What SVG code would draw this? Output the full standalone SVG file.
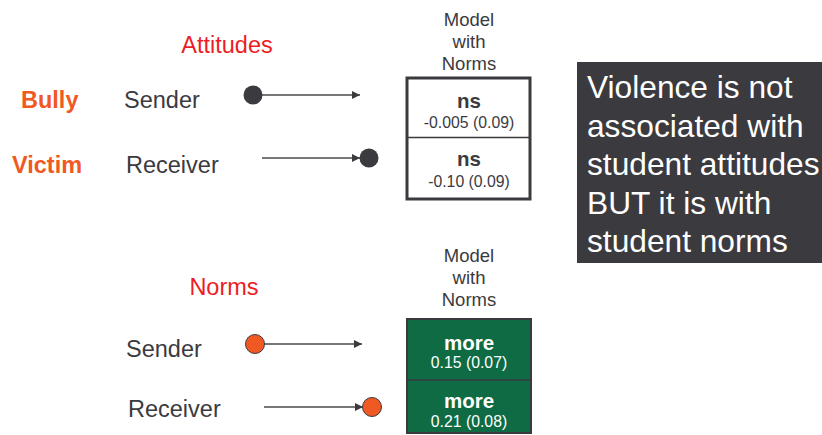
<svg xmlns="http://www.w3.org/2000/svg" width="822" height="435" viewBox="0 0 822 435">
<defs>
<style>
text{font-family:"Liberation Sans",Arial,sans-serif}
.lbl{font-size:23.5px;fill:#3b3a3f}
.role{font-size:23.5px;font-weight:bold;fill:#f05a22}
.head{font-size:23.5px;fill:#ee1c24}
.mh{font-size:18.5px;fill:#3b3a3f;text-anchor:middle}
.big{font-size:20.5px;font-weight:bold;text-anchor:middle}
.val{font-size:15.8px;text-anchor:middle}
.conn{stroke:#4a4a4e;stroke-width:1.3;fill:none}
.dk{fill:#3b3a3f}
.or{fill:#f05a22;stroke:#3b3a3f;stroke-width:1}
.note{font-size:31.7px;fill:#ffffff}
</style>
<marker id="arr" viewBox="0 0 10 10" refX="10" refY="5" markerWidth="8" markerHeight="8" markerUnits="userSpaceOnUse" orient="auto">
<path d="M0,0 L10,5 L0,10 z" fill="#3b3a3f"/>
</marker>
</defs>
<rect width="822" height="435" fill="#ffffff"/>

<g id="labels-top">
<text class="head" x="227" y="53" text-anchor="middle">Attitudes</text>
<text class="role" x="21" y="108">Bully</text>
<text class="lbl" x="124" y="108">Sender</text>
<text class="role" x="12" y="173">Victim</text>
<text class="lbl" x="126" y="173">Receiver</text>
</g>

<g id="labels-bottom">
<text class="head" x="224" y="295" text-anchor="middle">Norms</text>
<text class="lbl" x="126" y="357">Sender</text>
<text class="lbl" x="128" y="417">Receiver</text>
</g>

<g id="connectors">
<line class="conn" x1="262" y1="95" x2="360" y2="95" marker-end="url(#arr)"/>
<line class="conn" x1="262" y1="158" x2="360" y2="158" marker-end="url(#arr)"/>
<line class="conn" x1="264" y1="344" x2="362" y2="344" marker-end="url(#arr)"/>
<line class="conn" x1="264" y1="407" x2="363" y2="407" marker-end="url(#arr)"/>
</g>

<g id="dots">
<circle class="dk" cx="253" cy="95" r="9.5"/>
<circle class="dk" cx="369" cy="158" r="9.5"/>
<circle class="or" cx="255" cy="344" r="9.5"/>
<circle class="or" cx="372" cy="407" r="9.5"/>
</g>

<g id="model-attitudes">
<text class="mh" x="469" y="26">Model</text>
<text class="mh" x="469" y="48">with</text>
<text class="mh" x="469" y="70">Norms</text>
<rect x="407" y="78" width="123" height="121" fill="#ffffff" stroke="#3b3a3f" stroke-width="3"/>
<line x1="407" y1="137.5" x2="530" y2="137.5" stroke="#3b3a3f" stroke-width="1.5"/>
<text class="big" x="469" y="108" fill="#3b3a3f">ns</text>
<text class="val" x="469" y="128" fill="#3b3a3f">-0.005 (0.09)</text>
<text class="big" x="469" y="166" fill="#3b3a3f">ns</text>
<text class="val" x="469" y="187" fill="#3b3a3f">-0.10 (0.09)</text>
</g>

<g id="model-norms">
<text class="mh" x="469" y="262">Model</text>
<text class="mh" x="469" y="284">with</text>
<text class="mh" x="469" y="306">Norms</text>
<rect x="407" y="319" width="124" height="114" fill="#0e6b43" stroke="#3b3a3f" stroke-width="2"/>
<line x1="407" y1="380" x2="531" y2="380" stroke="#3b3a3f" stroke-width="1.5"/>
<text class="big" x="469" y="350" fill="#ffffff">more</text>
<text class="val" x="469" y="368" fill="#ffffff">0.15 (0.07)</text>
<text class="big" x="469" y="408" fill="#ffffff">more</text>
<text class="val" x="469" y="427" fill="#ffffff">0.21 (0.08)</text>
</g>

<g id="note">
<rect x="577" y="62" width="245" height="201" fill="#3b3a3f"/>
<text class="note" x="587" y="98">Violence is not</text>
<text class="note" x="587" y="137">associated with</text>
<text class="note" x="587" y="175">student attitudes</text>
<text class="note" x="587" y="214">BUT it is with</text>
<text class="note" x="587" y="252">student norms</text>
</g>
</svg>
